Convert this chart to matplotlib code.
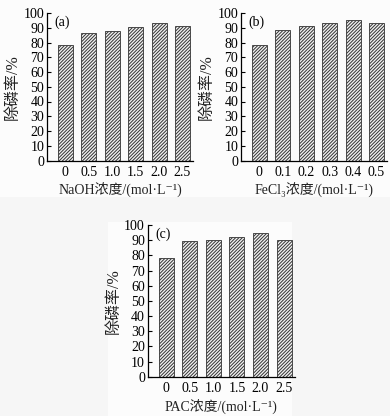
import matplotlib
matplotlib.use("Agg")
import matplotlib.pyplot as plt
from matplotlib.patches import Rectangle

plt.rcParams['font.family'] = ['Liberation Serif', 'Noto Sans CJK SC', 'DejaVu Serif', 'DejaVu Sans']
plt.rcParams['hatch.color'] = '#9a9a9a'
plt.rcParams['hatch.linewidth'] = 0.7

naoh_labels = ['0', '0.5', '1.0', '1.5', '2.0', '2.5']
naoh_values = [78.5, 86.5, 87.5, 90.5, 93, 91]
fecl3_labels = ['0', '0.1', '0.2', '0.3', '0.4', '0.5']
fecl3_values = [78.5, 88.5, 91, 93, 95, 93]
pac_labels = ['0', '0.5', '1.0', '1.5', '2.0', '2.5']
pac_values = [78, 89.5, 90.2, 92.2, 95, 90.2]

panels = [
    ('(a)', naoh_labels, naoh_values, 'NaOH浓度/(mol·L⁻¹)', [47/390, 1-160.5/416, 146/390, 147.5/416]),
    ('(b)', fecl3_labels, fecl3_values, 'FeCl₃浓度/(mol·L⁻¹)', [241/390, 1-160.5/416, 146/390, 147.5/416]),
    ('(c)', pac_labels, pac_values, 'PAC浓度/(mol·L⁻¹)', [147.7/390, 1-376.7/416, 147/390, 151.7/416]),
]

fig = plt.figure(figsize=(3.9, 4.16), dpi=100)
fig.patch.set_facecolor('#f6f6f6')
for (x0, y0, w, h) in [(0, 0, 195, 197), (195, 0, 195, 197), (108, 222, 184, 194)]:
    fig.add_artist(Rectangle((x0/390, 1-(y0+h)/416), w/390, h/416, transform=fig.transFigure,
                             facecolor='#fcfcfc', edgecolor='none', zorder=-10))

for tag, labels, values, xlabel, rect in panels:
    ax = fig.add_axes(rect)
    ax.set_facecolor('none')
    x = list(range(len(values)))
    ax.bar(x, values, width=0.64, facecolor='#f0f0f0', edgecolor='#333333',
           linewidth=0.6, hatch='//////////')
    ax.set_xlim(-0.78, 5.45)
    ax.set_ylim(0, 100)
    ax.set_yticks(range(0, 101, 10))
    ax.set_xticks(x)
    ax.set_xticklabels(labels)
    ax.tick_params(axis='y', direction='in', length=3, width=0.8, labelsize=10, pad=2)
    ax.tick_params(axis='x', length=0, labelsize=10, pad=4)
    for s in ['top', 'right']:
        ax.spines[s].set_visible(False)
    for s in ['left', 'bottom']:
        ax.spines[s].set_linewidth(0.9)
    ax.set_ylabel('除磷率/%', fontsize=11.5, labelpad=2, color='#222222')
    ax.set_xlabel(xlabel, fontsize=10, labelpad=3, color='#222222')
    ax.text(0.05, 0.985, tag, transform=ax.transAxes, fontsize=10, va='top', ha='left')

fig.savefig('out.png', dpi=100, facecolor=fig.get_facecolor())
